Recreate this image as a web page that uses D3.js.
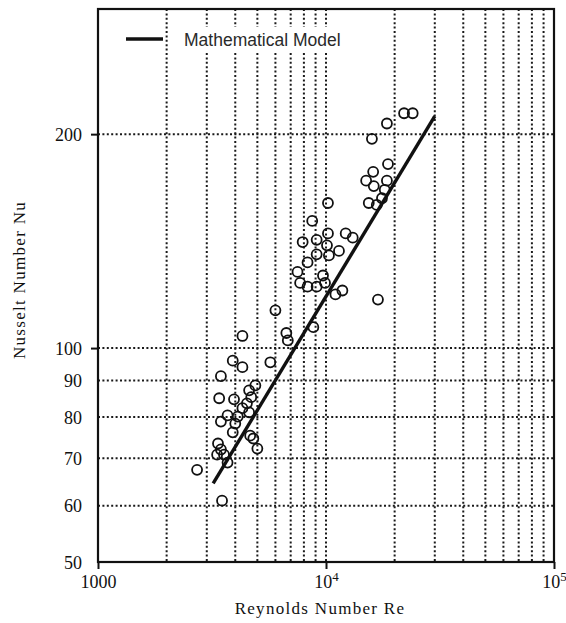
<!DOCTYPE html>
<html>
<head>
<meta charset="utf-8">
<script src="https://cdn.jsdelivr.net/npm/d3@7"></script>
<style>
  html, body { margin: 0; padding: 0; background: #fff; }
  svg { display: block; }
</style>
</head>
<body>
<svg id="chart" width="566" height="623"></svg>
<script>
// Measured heat-transfer points: Reynolds number vs Nusselt number
const reynolds = [
  22000, 24000, 18500, 15900, 18700, 16100, 15000, 16200, 18500, 18100, 17600, 15400, 16700, 16900,
  10200, 8700, 10200, 12200, 13100, 7900, 9100, 10100, 11400, 9100, 10300, 8300, 7500, 9700,
  7700, 8300, 9100, 9900, 11000, 11800, 8800, 6700, 6800, 6000,
  4300, 3900, 4300, 5700, 3460, 4900, 4600, 3400, 3950, 4700, 4500, 4300, 3700, 4100,
  4600, 3460, 4000, 3900, 4650, 4800, 5000, 3360, 3460, 3570, 3330, 3700, 2720, 3500
];
const nusselt = [
  214, 214, 207, 197, 181.5, 177, 172, 169, 172, 167, 162.5, 160, 159, 117,
  160, 151, 145, 145, 143, 141, 142, 139.5, 137, 135.5, 135, 132, 128, 126.5,
  123.5, 122, 122, 123.5, 119, 120.5, 107, 105, 102.5, 113,
  104, 96, 94, 95.5, 91.3, 88.6, 87.2, 85, 84.7, 85.3, 83.6, 82.3, 80.4, 80.1,
  81.2, 78.8, 78.3, 76.1, 75.3, 74.6, 72.2, 73.4, 72, 70.8, 70.8, 69, 67.4, 61
];

// Mathematical model line end points
const modelRe = [3200, 30000];
const modelNu = [64.5, 212];

// Grid and tick values
const xGridValues = [2000, 3000, 4000, 5000, 6000, 7000, 8000, 9000, 10000,
                     20000, 30000, 40000, 50000, 60000, 70000, 80000, 90000];
const yGridValues = [60, 70, 80, 90, 100, 200];
const yTickValues = [50, 60, 70, 80, 90, 100, 200];
const yMajorTicks = [100, 200];
const xTickValues = [1000, 10000, 100000];
const xTickBase = ["1000", "10", "10"];
const xTickExp = ["", "4", "5"];

const legendLabel = "Mathematical Model";
const xTitle = "Reynolds Number Re";
const yTitle = "Nusselt Number Nu";

const svg = d3.select("#chart");
const plot = { left: 98, right: 554, top: 9, bottom: 562 };

const x = d3.scaleLog().domain([1000, 100000]).range([plot.left, plot.right]);
const y = d3.scaleLog().domain([50, 300]).range([plot.bottom, plot.top]);

const serif = "'Liberation Serif', 'DejaVu Serif', serif";
const ink = "#111";

// Dotted grid
const grid = svg.append("g").attr("stroke", "#1a1a1a").attr("stroke-width", 2)
  .attr("stroke-dasharray", "2,2.4");
grid.selectAll("line.v").data(xGridValues).join("line")
  .attr("class", "v")
  .attr("x1", d => x(d)).attr("x2", d => x(d))
  .attr("y1", plot.top).attr("y2", plot.bottom);
grid.selectAll("line.h").data(yGridValues).join("line")
  .attr("class", "h")
  .attr("x1", plot.left).attr("x2", plot.right)
  .attr("y1", d => y(d)).attr("y2", d => y(d));

// Frame
svg.append("rect")
  .attr("x", plot.left).attr("y", plot.top)
  .attr("width", plot.right - plot.left).attr("height", plot.bottom - plot.top)
  .attr("fill", "none").attr("stroke", ink).attr("stroke-width", 2.2);

// Y axis
const yAxis = svg.append("g")
  .attr("transform", `translate(${plot.left},0)`)
  .call(d3.axisLeft(y).tickValues(yTickValues).tickFormat(d3.format("d")).tickSizeOuter(0));
yAxis.select(".domain").remove();
yAxis.selectAll(".tick line")
  .attr("x2", d => yMajorTicks.includes(d) ? -7 : 0)
  .attr("stroke", ink).attr("stroke-width", 2);
yAxis.selectAll(".tick text")
  .attr("font-family", serif).attr("font-size", 18).attr("fill", ink)
  .attr("x", -16).attr("dy", "0.34em");

// X axis
const xAxis = svg.append("g")
  .attr("transform", `translate(0,${plot.bottom})`)
  .call(d3.axisBottom(x).tickValues(xTickValues).tickFormat(() => "").tickSizeOuter(0));
xAxis.select(".domain").remove();
xAxis.selectAll(".tick line").attr("y2", 7).attr("stroke", ink).attr("stroke-width", 2);
xAxis.selectAll(".tick text").remove();
xAxis.selectAll(".tick").append("text")
  .attr("y", 26)
  .attr("text-anchor", "middle")
  .attr("font-family", serif).attr("font-size", 18).attr("fill", ink)
  .each(function (d, i) {
    const t = d3.select(this);
    t.append("tspan").text(xTickBase[i]);
    if (xTickExp[i]) {
      t.append("tspan").attr("dy", -7).attr("font-size", 13).text(xTickExp[i]);
    }
  });

// Axis titles
svg.append("text")
  .attr("x", 320).attr("y", 614)
  .attr("text-anchor", "middle")
  .attr("font-family", serif).attr("font-size", 17).attr("fill", ink)
  .attr("letter-spacing", 1.3)
  .text(xTitle);
svg.append("text")
  .attr("transform", `translate(25,${280}) rotate(-90)`)
  .attr("text-anchor", "middle")
  .attr("font-family", serif).attr("font-size", 17).attr("fill", ink)
  .attr("letter-spacing", 1.3)
  .text(yTitle);

// Model line
svg.append("line")
  .attr("x1", x(modelRe[0])).attr("y1", y(modelNu[0]))
  .attr("x2", x(modelRe[1])).attr("y2", y(modelNu[1]))
  .attr("stroke", ink).attr("stroke-width", 3.4);

// Data circles
svg.append("g").selectAll("circle").data(reynolds).join("circle")
  .attr("cx", d => x(d))
  .attr("cy", (d, i) => y(nusselt[i]))
  .attr("r", 5)
  .attr("fill", "none").attr("stroke", ink).attr("stroke-width", 1.8);

// Legend (label sits on a white patch so the grid does not run through it)
const legend = svg.append("g");
legend.append("line")
  .attr("x1", 126).attr("x2", 163).attr("y1", 39).attr("y2", 39)
  .attr("stroke", ink).attr("stroke-width", 3.4);
const legendText = legend.append("text")
  .attr("x", 184).attr("y", 46)
  .attr("font-family", "'Liberation Sans', Arial, sans-serif").attr("font-size", 17.5)
  .attr("fill", "#2a2a2a")
  .text(legendLabel);
const bb = legendText.node().getBBox();
legend.insert("rect", "text")
  .attr("x", bb.x - 4).attr("y", bb.y - 3)
  .attr("width", bb.width + 8).attr("height", bb.height + 6)
  .attr("fill", "#fff");
</script>
</body>
</html>
